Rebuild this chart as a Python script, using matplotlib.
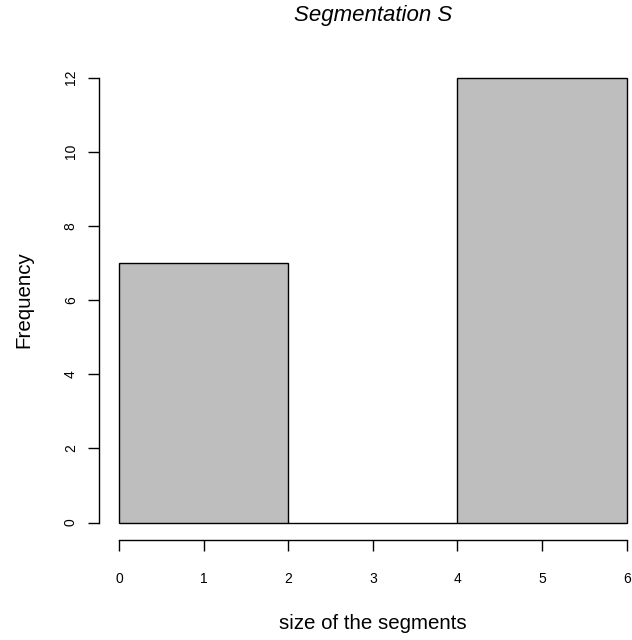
import matplotlib
matplotlib.use("Agg")
import matplotlib.pyplot as plt

plt.rcParams['font.family'] = ['Liberation Sans', 'DejaVu Sans']

bin_edges = [0, 2, 4, 6]
counts = [7, 0, 12]
xticks = [0, 1, 2, 3, 4, 5, 6]
yticks = [0, 2, 4, 6, 8, 10, 12]
title = "Segmentation S"
xlabel = "size of the segments"
ylabel = "Frequency"

fig = plt.figure(figsize=(6.32, 6.4), dpi=100)
ax = fig.add_axes([98.7 / 632, (640 - 540.4) / 640, 548.3 / 632, 480.6 / 640])

lefts = bin_edges[:-1]
widths = [b - a for a, b in zip(bin_edges[:-1], bin_edges[1:])]
ax.bar(lefts, counts, width=widths, align='edge', color='#BEBEBE',
       edgecolor='black', linewidth=1.0)

ax.set_xlim(-0.24, 6.24)
ax.set_ylim(-0.48, 12.48)

for s in ['top', 'right']:
    ax.spines[s].set_visible(False)
ax.spines['bottom'].set_bounds(0, 6)
ax.spines['left'].set_bounds(0, 12)
ax.spines['bottom'].set_linewidth(1.0)
ax.spines['left'].set_linewidth(1.0)

ax.set_xticks(xticks)
ax.set_yticks(yticks)
ax.set_yticklabels([str(v) for v in yticks], rotation=90, va='center')
ax.tick_params(axis='both', direction='out', length=8, width=1.0, labelsize=10)
ax.tick_params(axis='x', pad=15)
ax.tick_params(axis='y', pad=7)

ax.set_title(title, fontstyle='italic', fontsize=16, pad=28)
ax.set_xlabel(xlabel, fontsize=14.8, labelpad=20)
ax.set_ylabel(ylabel, fontsize=14.8, labelpad=22)

fig.savefig("out.png", dpi=100)
